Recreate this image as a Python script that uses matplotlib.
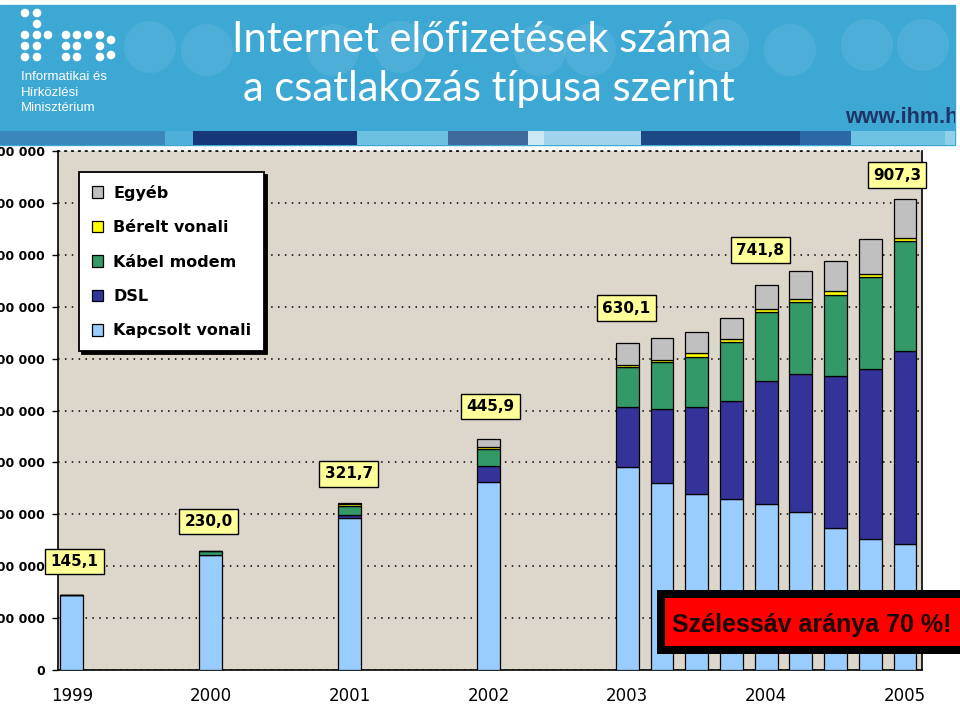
import matplotlib
matplotlib.use("Agg")
import matplotlib.pyplot as plt
from matplotlib.patches import Rectangle, Circle
from matplotlib.ticker import FuncFormatter, FixedLocator

# ---------------- data (thousands of subscriptions) ----------------
periods = ['1999', '2000', '2001', '2002',
           '2003 I', '2003 II', '2003 III', '2003 IV',
           '2004 I', '2004 II', '2004 III', '2004 IV', '2005 I']
kapcsolt = [143.6, 221.2, 293.0, 362.0, 392.0, 360.0, 339.0, 330.0, 320.6, 305.0, 273.7, 252.6, 242.0]
dsl      = [0.0, 1.0, 6.0, 31.5, 114.4, 143.8, 167.4, 188.6, 235.8, 265.5, 293.0, 327.5, 372.0]
kabel    = [1.2, 7.0, 17.5, 31.5, 76.9, 89.1, 97.4, 113.5, 134.0, 139.0, 156.4, 177.6, 213.0]
berelt   = [0.2, 0.4, 2.5, 4.5, 5.0, 5.0, 7.0, 6.0, 5.0, 6.0, 7.0, 6.0, 5.0]
egyeb    = [0.1, 0.4, 2.7, 16.4, 41.8, 41.1, 41.2, 40.7, 46.4, 53.5, 57.7, 67.1, 75.3]
series_names = ['Kapcsolt vonali', 'DSL', 'Kábel modem', 'Bérelt vonali', 'Egyéb']
year_labels = ['1999', '2000', '2001', '2002', '2003', '2004', '2005']
labelled = ['1999', '2000', '2001', '2002', '2003 I', '2004 I', '2005 I']
title_lines = ['Internet előfizetések száma', 'a csatlakozás típusa szerint']
note_text = 'Szélessáv aránya 70 %!'

# ---------------- layout ----------------
# x position in quarters: yearly bars 4 quarters apart, then quarterly
pos = [0, 4, 8, 12] + list(range(16, 25))
year_pos = [0, 4, 8, 12, 16, 20, 24]
colors = ['#99ccff', '#333399', '#339966', '#ffff00', '#c0c0c0']
label_offsets = {'1999': (2, 24), '2000': (-1.5, 21), '2001': (-0.7, 21), '2002': (1.4, 23),
                 '2003 I': (-0.7, 25), '2004 I': (-4.3, 25), '2005 I': (-5.8, 17.3)}

W, H = 960, 723
fig = plt.figure(figsize=(W / 100, H / 100), dpi=100)
fig.patch.set_facecolor('white')

ax = fig.add_axes([58 / W, (H - 670) / H, 864 / W, 519 / H], zorder=1)
ax.set_facecolor('#ddd6cb')

series = [kapcsolt, dsl, kabel, berelt, egyeb]
bottoms = [0.0] * len(pos)
handles = []
for name, vals, col in zip(series_names, series, colors):
    b = ax.bar(pos, vals, width=0.66, bottom=bottoms, color=col,
               edgecolor='black', linewidth=0.9, label=name, zorder=3)
    handles.append(b)
    bottoms = [bo + v for bo, v in zip(bottoms, vals)]
totals = bottoms

ax.set_xlim(-0.4, 24.49)
ax.set_ylim(0, 1000)
ax.yaxis.set_major_locator(FixedLocator(range(0, 1001, 100)))
ax.yaxis.set_major_formatter(FuncFormatter(lambda v, _: f"{int(round(v * 1000)):,}".replace(',', ' ')))
ax.set_xticks(year_pos)
ax.set_xticklabels(year_labels)
ax.tick_params(axis='x', length=0, pad=12, labelsize=12)
ax.tick_params(axis='y', length=4.5, width=1, pad=5, labelsize=9)
for t in ax.get_yticklabels():
    t.set_fontweight('bold')
ax.grid(axis='y', color='black', linestyle=(0, (1, 3.5)), linewidth=1.1, zorder=0)
ax.set_axisbelow(True)
for s in ['left', 'bottom', 'right']:
    ax.spines[s].set_color('black')
    ax.spines[s].set_linewidth(1.2)
ax.spines['top'].set_linestyle((0, (1, 3.5)))
ax.spines['top'].set_linewidth(1.1)

# data labels
for p, per, tot in zip(pos, periods, totals):
    if per in labelled:
        dx, dy = label_offsets[per]
        ax.annotate(f"{tot:.1f}".replace('.', ','), xy=(p, tot), xytext=(dx, dy),
                    textcoords='offset points', ha='center', va='center',
                    fontsize=11, fontweight='bold', zorder=6,
                    bbox=dict(boxstyle='square,pad=0.35', fc='#ffff99', ec='black', lw=1))

leg = ax.legend(handles[::-1], series_names[::-1], loc='upper left',
                bbox_to_anchor=(0.024, 0.96), borderaxespad=0,
                prop={'weight': 'bold', 'size': 11.5},
                frameon=True, fancybox=False, framealpha=1, edgecolor='black',
                borderpad=0.8, labelspacing=1.22, handlelength=0.75, handleheight=0.75,
                handletextpad=0.6, shadow={'color': 'black', 'alpha': 1})
leg.get_frame().set_linewidth(1.3)
leg.set_zorder(7)

# ---------------- overlay (header, note) in pixel coords ----------------
ov = fig.add_axes([0, 0, 1, 1], zorder=5)
ov.set_xlim(0, W)
ov.set_ylim(H, 0)
ov.axis('off')
ov.patch.set_visible(False)

header = Rectangle((0, 5), 955, 140, color='#3ea8d5', zorder=1)
ov.add_patch(header)
for cx, cy, r in [(150, 47, 26), (207, 50, 26), (333, 50, 26), (400, 47, 26), (540, 50, 26),
                  (590, 50, 26), (723, 45, 26), (790, 50, 26), (867, 45, 26), (923, 45, 26)]:
    ov.add_patch(Circle((cx, cy), r, color='white', alpha=0.08, zorder=2, lw=0))
stripes = [(0, 165, '#3a88bb'), (165, 193, '#4eb0d8'), (193, 357, '#163877'),
           (357, 448, '#6cc0e0'), (448, 528, '#3f6a9c'), (528, 544, '#cce8f4'),
           (544, 641, '#a0d4ec'), (641, 800, '#1a4986'), (800, 851, '#2c68a6'),
           (851, 945, '#6ec2e2'), (945, 955, '#8fd0ea')]
for x0, x1, c in stripes:
    ov.add_patch(Rectangle((x0, 131), x1 - x0, 14, color=c, zorder=2, lw=0))

# logo dots
dots = [(25, 13), (37, 13), (37, 24),
        (25, 35), (37, 35), (48, 35), (66, 35), (77, 35), (88, 35), (100, 35),
        (25, 46), (37, 46), (66, 46), (77, 46), (100, 46), (111, 40),
        (25, 57), (37, 57), (66, 57), (77, 57), (100, 57), (111, 55)]
for dx_, dy_ in dots:
    ov.add_patch(Circle((dx_, dy_), 4.3, color='white', zorder=3, lw=0))
for i, line in enumerate(['Informatikai és', 'Hírközlési', 'Minisztérium']):
    ov.text(21, 80 + i * 15.5, line, color='white', fontsize=9.5,
            family=['Liberation Sans', 'DejaVu Sans'], va='baseline', ha='left', zorder=4)

ov.text(232, 52, title_lines[0], color='white', fontsize=30, family=['Lato', 'DejaVu Sans'],
        fontweight='normal', va='baseline', ha='left', zorder=4)
ov.text(243, 101, title_lines[1], color='white', fontsize=30, family=['Lato', 'DejaVu Sans'],
        fontweight='normal', va='baseline', ha='left', zorder=4)
t = ov.text(845, 123, 'www.ihm.hu', color='#1f3366', fontsize=15.5, fontweight='bold',
            family=['Liberation Sans', 'DejaVu Sans'], va='baseline', ha='left', zorder=4)
t.set_clip_path(header)
t.set_clip_on(True)

# note box
ov.add_patch(Rectangle((657, 590), 310, 64, color='black', zorder=5, lw=0))
ov.add_patch(Rectangle((665, 598), 300, 48, color='#ff0000', zorder=6, lw=0))
ov.text(672, 625, note_text, color='#1a0808', fontsize=18, fontweight='bold',
        family=['Liberation Sans', 'DejaVu Sans'], va='center', ha='left', zorder=7)

fig.savefig('out.png', dpi=100)
